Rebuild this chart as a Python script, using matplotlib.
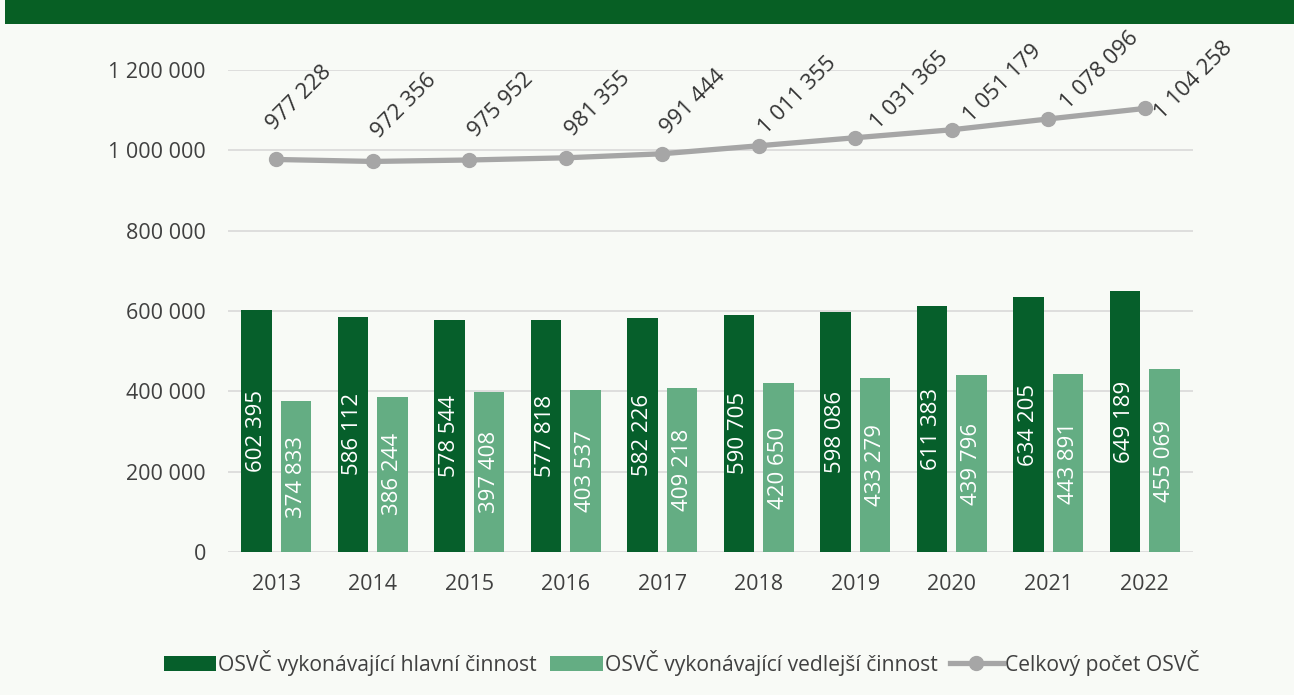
import numpy as np
import matplotlib.pyplot as plt
from matplotlib.patches import Rectangle

years = ['2013', '2014', '2015', '2016', '2017', '2018', '2019', '2020', '2021', '2022']
hlavni = [602395, 586112, 578544, 577818, 582226, 590705, 598086, 611383, 634205, 649189]
vedlejsi = [374833, 386244, 397408, 403537, 409218, 420650, 433279, 439796, 443891, 455069]
celkem = [977228, 972356, 975952, 981355, 991444, 1011355, 1031365, 1051179, 1078096, 1104258]

# label offsets (pixels) of the total-count labels, as placed in the source chart
lab_dx = [-2, 6, 7, 7, 6, 7, 23, 19, 20, 17]
lab_dy = [28, 22, 22, 21, 19, 11, 8, 7, 9, -12]

dark = '#065f2b'
light = '#64ad83'
grey = '#a6a6a6'
bg = '#f8faf6'


def fmt(v):
    return f'{v:,}'.replace(',', ' ')


plt.rcParams['font.family'] = ['Open Sans', 'DejaVu Sans']

fig = plt.figure(figsize=(12.94, 6.95), dpi=100)
fig.patch.set_facecolor(bg)
# top banner
fig.patches.append(Rectangle((5 / 1294, 1 - 24 / 695), 1, 24 / 695, transform=fig.transFigure,
                             facecolor='#075f24', edgecolor='none', zorder=0))

ax = fig.add_axes([228 / 1294, 1 - 552 / 695, (1193 - 228) / 1294, (552 - 70) / 695])
ax.set_facecolor(bg)

x = np.arange(len(years))
w = 0.32
ax.plot(x, celkem, color=grey, lw=3.8, marker='o', ms=10, label='Celkový počet OSVČ', zorder=4)
b1 = ax.bar(x - 0.205, hlavni, w, color=dark, label='OSVČ vykonávající hlavní činnost', zorder=2)
b2 = ax.bar(x + 0.205, vedlejsi, w, color=light, label='OSVČ vykonávající vedlejší činnost', zorder=2)
for bars, vals in [(b1, hlavni), (b2, vedlejsi)]:
    for r, v in zip(bars, vals):
        ax.text(r.get_x() + r.get_width() / 2, v / 2, fmt(v), rotation=90, ha='center', va='center',
                color='white', fontsize=16, zorder=3)

for xi, v, dx, dy in zip(x, celkem, lab_dx, lab_dy):
    ax.annotate(fmt(v), (xi, v), xytext=(dx, dy), textcoords='offset pixels', rotation=45,
                rotation_mode='anchor', ha='left', va='baseline', fontsize=16, color='#333333')

ax.set_xlim(-0.5, 9.5)
ax.set_ylim(0, 1200000)
ax.set_yticks(np.arange(0, 1200001, 200000))
ax.set_yticklabels([fmt(v) for v in range(0, 1200001, 200000)])
ax.set_xticks(x)
ax.set_xticklabels(years)
ax.tick_params(length=0, labelsize=15.5, colors='#404040')
ax.tick_params(axis='y', pad=16)
ax.tick_params(axis='x', pad=16)
ax.grid(axis='y', color='#d9d9d9', lw=1.2, zorder=0)
ax.set_axisbelow(True)
for s in ax.spines.values():
    s.set_visible(False)

handles, labels = ax.get_legend_handles_labels()
order = [1, 2, 0]
ax.legend([handles[i] for i in order], [labels[i] for i in order],
          loc='center', bbox_to_anchor=(0.47, -0.23), ncol=3, frameon=False, fontsize=15.2,
          handlelength=2.5, handleheight=0.7, columnspacing=0.6, handletextpad=0.1,
          labelcolor='#404040', borderpad=0)

fig.savefig('out.png', dpi=100, facecolor=bg)
